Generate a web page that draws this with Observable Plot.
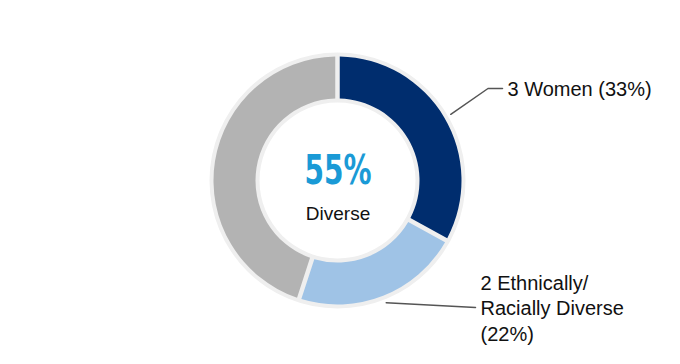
<!DOCTYPE html>
<html>
<head>
<meta charset="utf-8">
<script src="https://cdn.jsdelivr.net/npm/d3@7"></script>
<script src="https://cdn.jsdelivr.net/npm/@observablehq/plot@0.6"></script>
<style>
  html, body { margin: 0; padding: 0; background: #fff; }
  #chart { width: 680px; height: 364px; }
</style>
</head>
<body>
<div id="chart"></div>
<script>
// ---- data ----
const categories = ["Women", "Ethnically/Racially Diverse", "Other"];
const counts = [3, 2, null];
const shares = [33, 22, 45];
const colors = ["#002d6e", "#9fc3e6", "#b3b3b3"];
const labelLines = [
  ["3 Women (33%)"],
  ["2 Ethnically/", "Racially Diverse", "(22%)"],
  []
];
const centerValue = "55%";
const centerLabel = "Diverse";

// ---- layout ----
const W = 680, H = 364;
const cx = 337.5, cy = 180.5;
const ringOuter = 128, ringInner = 78;
const sliceOuter = 124, sliceInner = 82;
const leaderR = 131;
const leaderPaths = [
  [[150, -92.5], [164.5, -92.5]],
  [[137.5, 126.5]],
  null
];
const labelAnchors = [[169.5, -91.5], [142.5, 102.5]];
const lineGap = 25.5;

const data = categories.map((c, i) => ({category: c, count: counts[i], share: shares[i], color: colors[i], lines: labelLines[i]}));
const pie = d3.pie().value(d => d.share).sort(null)(data);

const leaders = [];
pie.forEach((p, i) => {
  if (!leaderPaths[i]) return;
  const a = (p.startAngle + p.endAngle) / 2;
  leaders.push({id: i, x: leaderR * Math.sin(a), y: -leaderR * Math.cos(a)});
  leaderPaths[i].forEach(([x, y]) => leaders.push({id: i, x, y}));
});
const labelTexts = [];
data.forEach((d, i) => {
  d.lines.forEach((t, k) => labelTexts.push({text: t, x: labelAnchors[i][0], y: labelAnchors[i][1] + k * lineGap}));
});

function donut(index, scales) {
  const x0 = scales.x(0), y0 = scales.y(0);
  const g = d3.create("svg:g").attr("transform", `translate(${x0},${y0})`);
  g.append("path")
    .attr("d", d3.arc().innerRadius(ringInner).outerRadius(ringOuter)({startAngle: 0, endAngle: 2 * Math.PI}))
    .attr("fill", "#efefef");
  const arc = d3.arc().innerRadius(sliceInner).outerRadius(sliceOuter).padAngle(0.045).padRadius(100);
  g.selectAll("path.slice").data(pie).join("path")
    .attr("class", "slice")
    .attr("d", arc)
    .attr("fill", d => d.data.color);
  return g.node();
}

const chart = Plot.plot({
  width: W,
  height: H,
  margin: 0,
  x: {domain: [-cx, W - cx], range: [0, W], axis: null},
  y: {domain: [-cy, H - cy], range: [0, H], axis: null},
  style: {background: "#fff", overflow: "visible"},
  marks: [
    donut,
    Plot.line(leaders, {x: "x", y: "y", z: "id", stroke: "#555", strokeWidth: 1.5}),
    Plot.text(labelTexts, {x: "x", y: "y", text: "text", textAnchor: "start", fontSize: 20, fill: "#111", fontFamily: "Liberation Sans, Arial, sans-serif"}),
    Plot.text([centerValue], {x: () => 0, y: () => -10.5, text: d => d, fontSize: 41, fill: "#1a9ad6", fontFamily: "DejaVu Sans, sans-serif", fontWeight: "bold", className: "center-value"}),
    Plot.text([centerLabel], {x: () => 0, y: () => 33, text: d => d, fontSize: 19, fill: "#111", fontFamily: "Liberation Sans, Arial, sans-serif"})
  ]
});
d3.select(chart).selectAll(".center-value text")
  .attr("textLength", 67)
  .attr("lengthAdjust", "spacingAndGlyphs");
document.getElementById("chart").append(chart);
</script>
</body>
</html>
